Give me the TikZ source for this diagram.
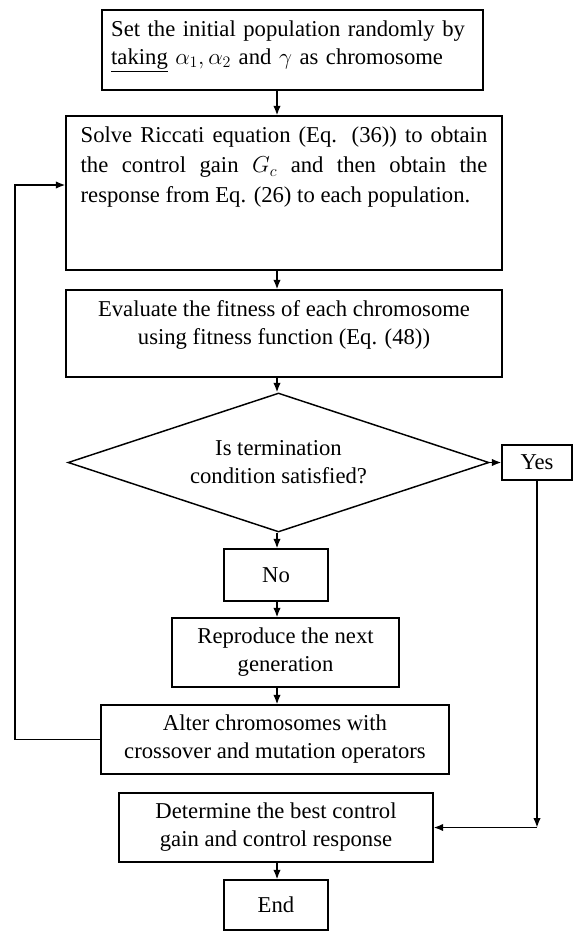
\documentclass[tikz,border=0pt]{standalone}
\usepackage{fontspec}
\setmainfont{Liberation Serif}
\usetikzlibrary{arrows.meta,shapes.geometric}
\newcommand\boxfont{\fontsize{17}{21}\selectfont}
\tikzset{
  stage/.style={draw,line width=1.1pt,rectangle,inner sep=4pt,align=center,font=\boxfont},
  test/.style={draw,line width=1.1pt,diamond,shape aspect=3,inner sep=0pt,align=center,font=\boxfont},
  flow/.style={->,line width=1pt},
}

\begin{document}
\begin{tikzpicture}[x=0.75pt,y=-0.75pt,>={Latex[length=7pt,width=5.5pt]}]
  \useasboundingbox (0,0) rectangle (577,932);
  \coordinate (spine) at (277,0);
  \node[stage,align=left,text width=272pt,minimum width=285.75pt,minimum height=60pt,text depth=32pt] (init) at (292.5,50)
    {Set the initial population randomly by\\\underline{taking} $\alpha_1,\alpha_2$ and $\gamma$ as chromosome};
  \node[stage,align=justify,text width=305pt,minimum width=327pt,minimum height=115.5pt,text depth=87pt,
        font=\fontsize{17}{22.5}\selectfont] (solve) at (284,193)
    {Solve Riccati equation (Eq. (36)) to obtain\linebreak the control gain $G_c$ and then obtain the\linebreak response from Eq. (26) to each population.};
  \node[stage,minimum width=327pt,minimum height=65.25pt,text depth=17pt] (evalfit) at (284,333.5)
    {Evaluate the fitness of each chromosome\\using fitness function (Eq. (48))};
  \node[test,minimum width=315.75pt,minimum height=104.25pt] (term) at (278.5,462.5)
    {Is termination\\condition satisfied?};
  \node[stage,minimum width=52.5pt,minimum height=26.25pt] (yes) at (537,462.5) {Yes};
  \node[stage,minimum width=78pt,minimum height=39pt] (no) at (276,575) {No};
  \node[stage,minimum width=170.25pt,minimum height=51.75pt] (repro) at (285.5,652.5)
    {Reproduce the next\\generation};
  \node[stage,minimum width=261pt,minimum height=51.75pt] (alter) at (275,739.5)
    {Alter chromosomes with\\crossover and mutation operators};
  \node[stage,minimum width=235.5pt,minimum height=51.75pt] (best) at (276,827.5)
    {Determine the best control\\gain and control response};
  \node[stage,minimum width=78pt,minimum height=37.5pt] (finish) at (276,905) {End};

  \foreach \a/\b in {init/solve,solve/evalfit,evalfit/term,term/no,no/repro,repro/alter,best/finish}
    \draw[flow] (\a.south -| spine) -- (\b.north -| spine);
  \draw[flow] (term.east) -- (yes.west);

  \coordinate (back) at (15,185);
  \draw[flow] (alter.west) -| (back) -- (back -| solve.west);

  \coordinate (yesturn) at (537,827.5);
  \draw[flow] (yes.south) -- (yesturn);
  \draw[flow] (yesturn) -- (best.east);
\end{tikzpicture}
\end{document}
